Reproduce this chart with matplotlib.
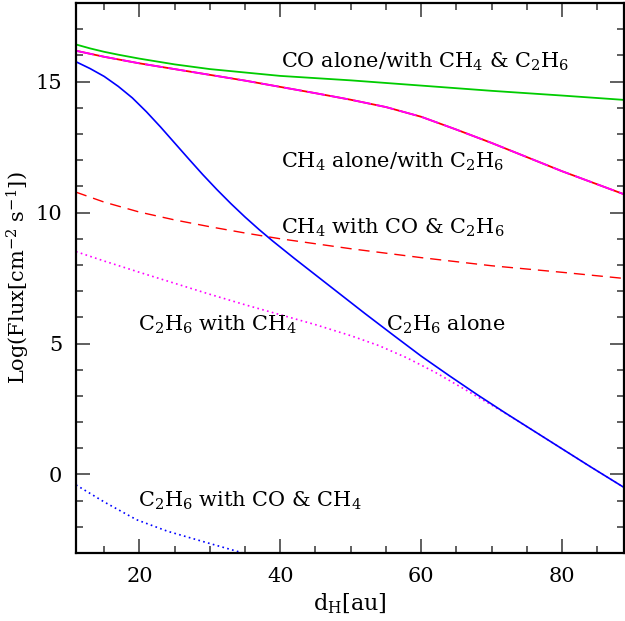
import matplotlib.pyplot as plt
from matplotlib.ticker import MultipleLocator

plt.rcParams['font.family'] = 'DejaVu Serif'
plt.rcParams['font.size'] = 15
plt.rcParams['mathtext.fontset'] = 'dejavuserif'

# CO alone / with CH4 & C2H6
co_x = [11, 13, 15, 17, 20, 25, 30, 40, 50, 60, 70, 80, 89]
co_y = [16.42, 16.27, 16.14, 16.03, 15.88, 15.66, 15.48, 15.22, 15.05, 14.85, 14.65, 14.47, 14.3]

# CH4 alone / with C2H6
ch4_x = [11, 15, 20, 25, 30, 35, 40, 45, 50, 55, 60, 65, 70, 75, 80, 85, 89]
ch4_y = [16.18, 15.95, 15.70, 15.48, 15.26, 15.04, 14.80, 14.56, 14.31, 14.03, 13.66, 13.17, 12.66, 12.12, 11.58, 11.08, 10.68]

# CH4 with CO & C2H6
ch4co_x = [11, 15, 20, 25, 30, 35, 40, 50, 60, 70, 80, 89]
ch4co_y = [10.78, 10.40, 10.02, 9.72, 9.46, 9.22, 9.00, 8.62, 8.28, 7.97, 7.72, 7.48]

# C2H6 alone
c2h6_x = [11, 13, 15, 17, 19, 21, 23, 25, 27, 29, 31, 33, 35, 37, 38.9, 42, 45, 48, 52, 56,
          60, 64, 68, 72, 76, 80, 84, 89]
c2h6_y = [15.76, 15.5, 15.2, 14.82, 14.38, 13.85, 13.27, 12.66, 12.05, 11.45, 10.88, 10.34, 9.83,
          9.35, 8.92, 8.25, 7.62, 6.99, 6.15, 5.33, 4.52, 3.77, 3.04, 2.34, 1.66, 0.98, 0.30, -0.53]

# C2H6 with CH4
c2h6ch4_x = [11, 15, 20, 25, 30, 35, 40, 45, 50, 54, 58, 62, 66, 70, 72, 76, 80, 84, 89]
c2h6ch4_y = [8.51, 8.15, 7.72, 7.30, 6.88, 6.48, 6.10, 5.72, 5.30, 4.92, 4.45, 3.90, 3.28, 2.65,
             2.33, 1.66, 0.98, 0.30, -0.53]

# C2H6 with CO & CH4
c2h6co_x = [11, 15, 19.6, 24, 29, 34.7, 37]
c2h6co_y = [-0.40, -1.05, -1.73, -2.17, -2.56, -3.0, -3.15]

fig = plt.figure(figsize=(6.25, 6.21), dpi=100)
ax = fig.add_axes([0.1216, 0.1095, 0.8768, 0.8855])

ax.plot(co_x, co_y, color='#00cc00', lw=1.3)
ax.plot(ch4_x, ch4_y, color='red', lw=1.3)
ax.plot(ch4_x, ch4_y, color='magenta', lw=1.3, dashes=(10, 3))
ax.plot(ch4co_x, ch4co_y, color='red', lw=1.0, dashes=(8, 5))
ax.plot(c2h6ch4_x, c2h6ch4_y, color='magenta', lw=1.2, dashes=(1, 2))
ax.plot(c2h6_x, c2h6_y, color='blue', lw=1.2)
ax.plot(c2h6co_x, c2h6co_y, color='blue', lw=1.2, dashes=(1, 2))

# labels
ax.text(40.1, 15.75, r'CO alone/with CH$_4$ & C$_2$H$_6$', va='center')
ax.text(40.1, 11.93, r'CH$_4$ alone/with C$_2$H$_6$', va='center')
ax.text(40.1, 9.41, r'CH$_4$ with CO & C$_2$H$_6$', va='center')
ax.text(19.8, 5.71, r'C$_2$H$_6$ with CH$_4$', va='center')
ax.text(55.0, 5.71, r'C$_2$H$_6$ alone', va='center')
ax.text(19.8, -1.0, r'C$_2$H$_6$ with CO & CH$_4$', va='center')

ax.set_xlim(11, 88.8)
ax.set_ylim(-3, 18)
ax.xaxis.set_major_locator(MultipleLocator(20))
ax.xaxis.set_minor_locator(MultipleLocator(5))
ax.yaxis.set_major_locator(MultipleLocator(5))
ax.yaxis.set_minor_locator(MultipleLocator(1))
ax.tick_params(which='both', direction='in', top=True, right=True, width=1.2, color='#444444',
               labelsize=15)
ax.tick_params(which='major', length=10, pad=10)
ax.tick_params(which='minor', length=5)
for s in ax.spines.values():
    s.set_linewidth(1.6)

ax.set_xlabel(r'd$_{\rm H}$[au]', fontsize=16, labelpad=4)
ax.set_ylabel(r'Log(Flux[cm$^{-2}$ s$^{-1}$])', fontsize=15, va='center')
ax.yaxis.set_label_coords(-0.106, 0.5)

fig.savefig('out.png', dpi=100)
